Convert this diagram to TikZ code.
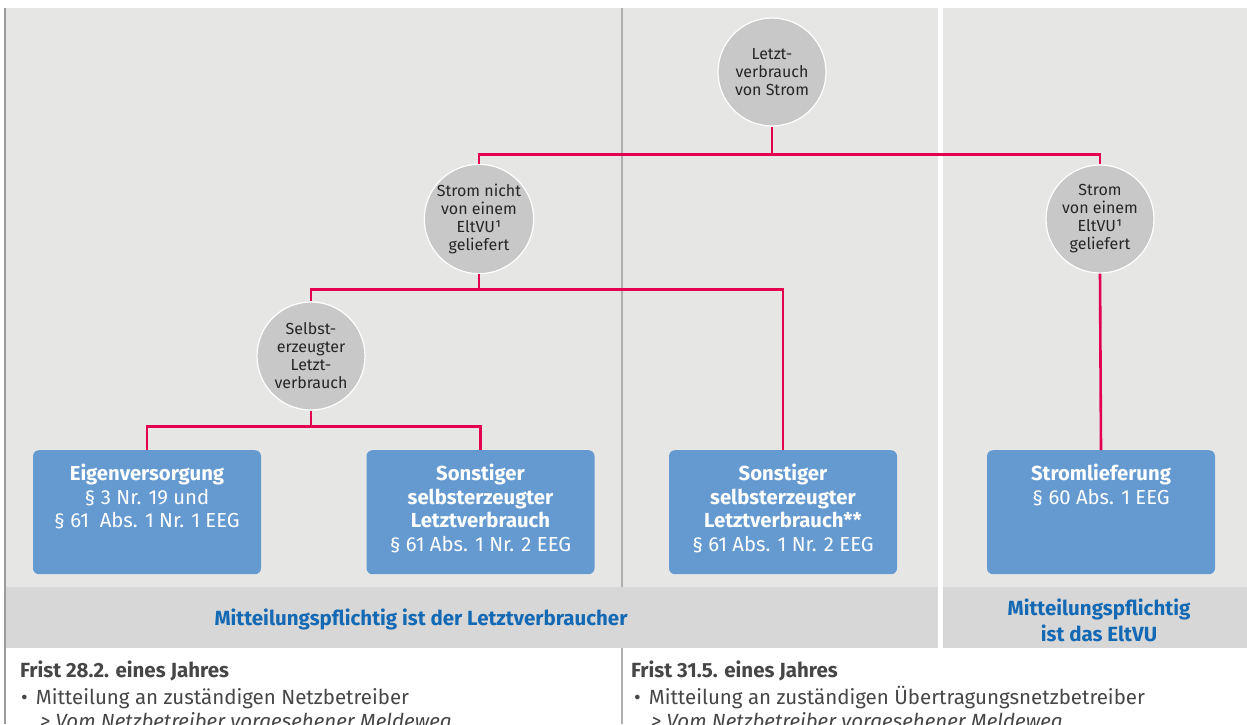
\documentclass[tikz,border=0pt]{standalone}
\usepackage{fontspec}
\setmainfont{Fira Sans}
\usetikzlibrary{positioning}
\definecolor{flaeche}{RGB}{230,230,229}
\definecolor{bandgrau}{RGB}{215,215,215}
\definecolor{kreisgrau}{RGB}{200,200,200}
\definecolor{kastenblau}{RGB}{101,154,209}
\definecolor{linienrot}{RGB}{226,0,79}
\definecolor{bandblau}{RGB}{20,105,180}
\definecolor{fliesstext}{RGB}{70,70,70}
\definecolor{randgrau}{RGB}{155,155,155}
\begin{document}
\begin{tikzpicture}[x=1pt,y=-1pt,
  kreis/.style={circle,fill=kreisgrau,draw=white,line width=1.2pt,minimum size=108pt,inner sep=0pt,
    align=center,text=black!85,font=\fontsize{16}{18}\selectfont},
  kasten/.style={rectangle,rounded corners=6pt,fill=kastenblau,minimum width=228pt,minimum height=124pt,anchor=north},
  kastentext/.style={anchor=north,align=center,text=white,inner sep=0pt,font=\fontsize{20.3}{23.5}\selectfont},
  linie/.style={draw=linienrot,line width=2.6pt},
  bandtext/.style={text=bandblau,align=center,font=\fontsize{20.5}{26}\selectfont\bfseries},
  frist/.style={anchor=base west,inner sep=0pt,text=fliesstext,font=\fontsize{20.5}{23}\selectfont}]
  \clip (0,0) rectangle (1247,724);
  \fill[white] (0,0) rectangle (1247,724);
  % Flaechen
  \fill[flaeche] (6,8) rectangle (938,587);
  \fill[flaeche] (943,8) rectangle (1247,587);
  \fill[bandgrau] (6,587) rectangle (938,648);
  \fill[bandgrau] (943,587) rectangle (1247,648);
  \draw[randgrau,line width=1.8pt] (5,8) -- (5,724);
  \draw[randgrau!80,line width=1.4pt] (622,8) -- (622,587) (622,648) -- (622,724);
  % Kreise
  \node[kreis] (strom) at (772,72) {Letzt-\\verbrauch\\von Strom};
  \node[kreis] (nicht) at (479,219) {Strom nicht\\von einem\\EltVU¹\\geliefert};
  \node[kreis] (eltvu) at (1100,219) {Strom\\von einem\\EltVU¹\\geliefert};
  \node[kreis] (selbst) at (311,356) {Selbst-\\erzeugter\\Letzt-\\verbrauch};
  % Kaesten
  \node[kasten] (eigen) at (147,450) {};
  \node[kasten] (sonst) at (480.5,450) {};
  \node[kasten] (sonstzwei) at (783,450) {};
  \node[kasten] (liefer) at (1101,450) {};
  \node[kastentext] at ([yshift=-14pt]eigen.north) {\textbf{Eigenversorgung}\\§ 3 Nr. 19 und\\§ 61\ \ Abs. 1 Nr. 1 EEG};
  \node[kastentext] at ([yshift=-14pt]sonst.north) {\textbf{Sonstiger}\\\textbf{selbsterzeugter}\\\textbf{Letztverbrauch}\\§ 61 Abs. 1 Nr. 2 EEG};
  \node[kastentext] at ([yshift=-14pt]sonstzwei.north) {\textbf{Sonstiger}\\\textbf{selbsterzeugter}\\\textbf{Letztverbrauch**}\\§ 61 Abs. 1 Nr. 2 EEG};
  \node[kastentext] at ([yshift=-14pt]liefer.north) {\textbf{Stromlieferung}\\§ 60 Abs. 1 EEG};
  % Verbindungen
  \draw[linie] (strom.south) -- ++(0,28) -| (nicht.north);
  \draw[linie] (strom.south) -- ++(0,28) -| (eltvu.north);
  \draw[linie] (nicht.south) -- ++(0,15) -| (selbst.north);
  \draw[linie] (nicht.south) -- ++(0,15) -| (sonstzwei.north);
  \draw[linie] (selbst.south) -- ++(0,16) -| (eigen.north);
  \draw[linie] (selbst.south) -- ++(0,16) -| (sonst.north);
  \draw[linie] (eltvu.south) -- (liefer.north);
  % Baender
  \node[bandtext] (pflichtl) at (421,619) {Mitteilungspflichtig ist der Letztverbraucher};
  \node[bandtext] (pflichtr) at (1099,620) {Mitteilungspflichtig\\ist das EltVU};
  % Fristen
  \node[frist] (fristl) at (20,677) {\bfseries Frist 28.2. eines Jahres};
  \node[frist] (punktl) at (21,704) {\textbullet\hspace{8pt}Mitteilung an zuständigen Netzbetreiber};
  \node[frist] (wegl) at (40,728) {\itshape > Vom Netzbetreiber vorgesehener Meldeweg};
  \node[frist] (fristr) at (631,677) {\bfseries Frist 31.5. eines Jahres};
  \node[frist] (punktr) at (634,704) {\textbullet\hspace{8pt}Mitteilung an zuständigen Übertragungsnetzbetreiber};
  \node[frist] (wegr) at (651,728) {\itshape > Vom Netzbetreiber vorgesehener Meldeweg};
\end{tikzpicture}
\end{document}
